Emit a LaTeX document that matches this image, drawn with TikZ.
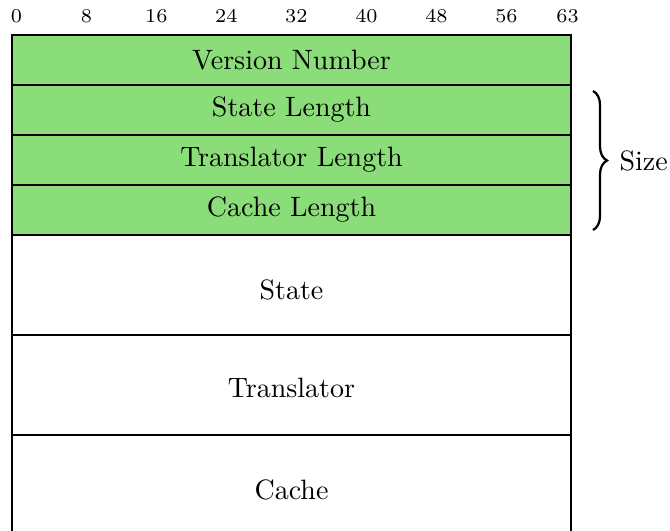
\documentclass[tikz,border=0pt]{standalone}
\usetikzlibrary{decorations.pathreplacing}
\definecolor{fieldgreen}{RGB}{139,221,121}
\begin{document}
\begin{tikzpicture}[x=0.357pt,y=-0.357pt,
  rowbox/.style={draw=black,line width=0.6pt},
  bitlabel/.style={font=\scriptsize,inner sep=0pt,anchor=base},
  fieldtext/.style={inner sep=0pt}]
\useasboundingbox (0,0) rectangle (670,530);
% header rows
\foreach \t/\b/\n/\txt in {35/85/vn/Version Number,85/135/sl/State Length,135/185/tl/Translator Length,185/235/cl/Cache Length}{
  \draw[rowbox,fill=fieldgreen] (12,\t) rectangle (571,\b);
  \node[fieldtext] (\n) at (291.5,{(\t+\b)/2}) {\txt};
}
\foreach \t/\b in {235/335,335/435,435/545}{
  \draw[rowbox,fill=white] (12,\t) rectangle (571,\b);
}
\node[fieldtext] (st) at (291.5,290) {State};
\node[fieldtext] (tr) at (291.5,388) {Translator};
\node[fieldtext] (ca) at (291.5,490) {Cache};
% bit labels
\foreach \k in {0,8,...,56}{
  \node[bitlabel] (b\k) at ({16.4+\k*8.75},23) {\k};
}
\node[bitlabel] (b63) at (567.6,23) {63};
% brace
\coordinate (bt) at (593,91);
\coordinate (bb) at (593,230);
\draw[line width=0.8pt,decorate,decoration={brace,amplitude=5pt}] (bt) -- (bb);
\node[anchor=west,inner sep=0pt] (size) at (619,161) {Size};
\end{tikzpicture}
\end{document}
